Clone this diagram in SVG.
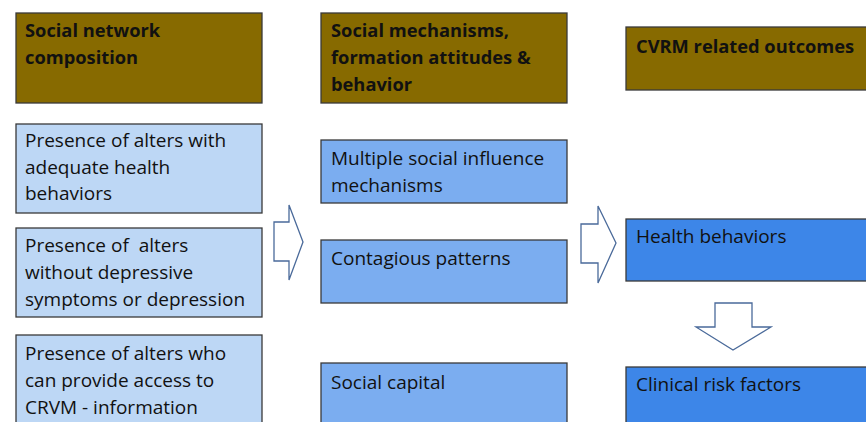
<svg xmlns="http://www.w3.org/2000/svg" width="866" height="422" viewBox="0 0 866 422">
<style>
.box{stroke:#3a3a3a;stroke-width:1.3}
.hdr{fill:#876a00}
.l{fill:#bdd7f5}
.m{fill:#7badf0}
.r{fill:#3d86e8}
text{font-family:"Open Sans","Liberation Sans",sans-serif;font-size:19px;fill:#111;white-space:pre}
.b{font-weight:bold;font-size:18.3px}
.arr{fill:#fff;stroke:#4a6a9a;stroke-width:1.3;stroke-linejoin:miter}
</style>
<rect width="866" height="422" fill="#fff"/>
<g id="hdr1"><rect class="box hdr" x="16" y="13" width="246" height="90"/><text class="b" x="25" y="37">Social network</text><text class="b" x="25" y="64">composition</text></g>
<g id="hdr2"><rect class="box hdr" x="321" y="13" width="246" height="90"/><text class="b" x="331" y="37">Social mechanisms,</text><text class="b" x="331" y="64">formation attitudes &amp;</text><text class="b" x="331" y="91">behavior</text></g>
<g id="hdr3"><rect class="box hdr" x="626" y="27" width="245" height="63"/><text class="b" x="636" y="53">CVRM related outcomes</text></g>
<g id="l1"><rect class="box l" x="16" y="124" width="246" height="89"/><text x="25" y="147">Presence of alters with</text><text x="25" y="174">adequate health</text><text x="25" y="200">behaviors</text></g>
<g id="l2"><rect class="box l" x="16" y="228" width="246" height="89"/><text x="25" y="252" xml:space="preserve">Presence of  alters</text><text x="25" y="279">without depressive</text><text x="25" y="306">symptoms or depression</text></g>
<g id="l3"><rect class="box l" x="16" y="335" width="246" height="100"/><text x="25" y="360">Presence of alters who</text><text x="25" y="387">can provide access to</text><text x="25" y="414">CRVM - information</text></g>
<g id="m1"><rect class="box m" x="321" y="140" width="246" height="63"/><text x="331" y="165">Multiple social influence</text><text x="331" y="192">mechanisms</text></g>
<g id="m2"><rect class="box m" x="321" y="240" width="246" height="63"/><text x="331" y="265">Contagious patterns</text></g>
<g id="m3"><rect class="box m" x="321" y="363" width="246" height="70"/><text x="331" y="389">Social capital</text></g>
<g id="r1"><rect class="box r" x="626" y="219" width="245" height="62"/><text x="636" y="243">Health behaviors</text></g>
<g id="r2"><rect class="box r" x="626" y="367" width="245" height="70"/><text x="636" y="391">Clinical risk factors</text></g>
<g id="connectors">
<polygon class="arr" points="274,222 289,222 289,205 303,242 289,280 289,261 274,261"/>
<polygon class="arr" points="581,224 598,224 598,206 616,243 598,283 598,263 581,263"/>
<polygon class="arr" points="715,303 752,303 752,327 771,327 733,350 696,327 715,327"/>
</g>
</svg>
